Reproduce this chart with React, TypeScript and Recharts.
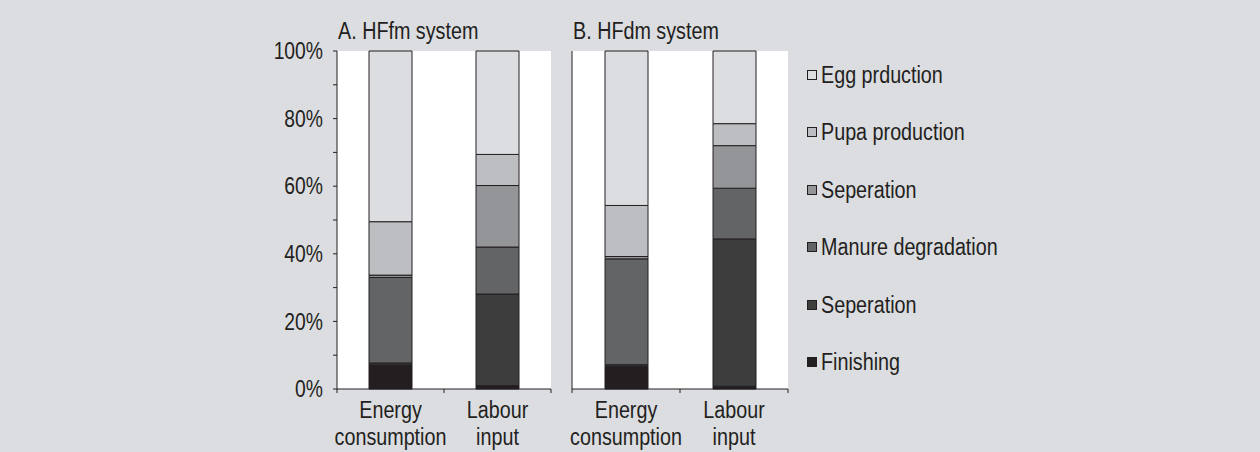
import { BarChart, Bar, XAxis, YAxis, CartesianGrid } from 'recharts';

const categories = ['Energy consumption', 'Labour input'];
const categoryLines = [['Energy', 'consumption'], ['Labour', 'input']];

// stack order, bottom to top
const seriesKeys = ['finishing', 'sepDark', 'manure', 'sepMid', 'pupa', 'egg'];
const seriesNames = ['Finishing', 'Seperation', 'Manure degradation', 'Seperation', 'Pupa production', 'Egg prduction'];
const seriesColors = ['#231f20', '#3d3d3e', '#636466', '#949598', '#bdbec1', '#dcdde0'];

// A. HFfm system (% of total)
const hffmFinishing = [7.1, 1.0];
const hffmSepDark = [0.6, 27.1];
const hffmManure = [25.3, 13.9];
const hffmSepMid = [0.7, 18.2];
const hffmPupa = [15.8, 9.2];
const hffmEgg = [50.5, 30.6];

// B. HFdm system (% of total)
const hfdmFinishing = [6.7, 0.8];
const hfdmSepDark = [0.5, 43.6];
const hfdmManure = [31.3, 15.0];
const hfdmSepMid = [0.7, 12.6];
const hfdmPupa = [15.1, 6.5];
const hfdmEgg = [45.7, 21.5];

const yTicks = [0, 10, 20, 30, 40, 50, 60, 70, 80, 90, 100];

const ink = '#231f20';
const font = "'Liberation Sans', Arial, sans-serif";
const fontSize = 23.5;
// the original type is a condensed Helvetica; squeeze Liberation Sans to match
const squeeze = 0.84;

const buildRows = (cols: number[][]) =>
  categories.map((name, i) => {
    const row: any = { name };
    seriesKeys.forEach((k, s) => (row[k] = cols[s][i]));
    return row;
  });

const hffmData = buildRows([hffmFinishing, hffmSepDark, hffmManure, hffmSepMid, hffmPupa, hffmEgg]);
const hfdmData = buildRows([hfdmFinishing, hfdmSepDark, hfdmManure, hfdmSepMid, hfdmPupa, hfdmEgg]);

const CategoryTick = (props: any) => {
  const { x, y, payload, index } = props;
  const half = payload?.offset ?? 0;
  const lines = categoryLines[categories.indexOf(payload.value)] ?? [String(payload.value)];
  return (
    <g>
      <line x1={x - half} x2={x - half} y1={y} y2={y + 4} stroke={ink} />
      {index === categories.length - 1 && <line x1={x + half} x2={x + half} y1={y} y2={y + 4} stroke={ink} />}
      <g transform={`translate(${x},${y}) scale(${squeeze},1)`}>
        <text x={0} y={29} textAnchor="middle" fill={ink} fontSize={fontSize} fontFamily={font}>
          {lines.map((l, i) => (
            <tspan key={i} x={0} dy={i === 0 ? 0 : 27}>{l}</tspan>
          ))}
        </text>
      </g>
    </g>
  );
};

const PercentTick = (props: any) => {
  const { x, y, payload } = props;
  if (payload.value % 20 !== 0) return <g />;
  return (
    <g transform={`translate(${x},${y}) scale(${squeeze},1)`}>
      <text x={0} y={0} dy="0.355em" textAnchor="end" fill={ink} fontSize={fontSize - 0.5} fontFamily={font}>
        {`${payload.value}%`}
      </text>
    </g>
  );
};

const squeezed = (text: string) => (
  <span style={{ display: 'inline-block', transform: `scaleX(${squeeze})`, transformOrigin: 'left center' }}>{text}</span>
);

function Panel({ data, title, left, width, axisWidth, showTicks }: any) {
  return (
    <div style={{ position: 'absolute', left, top: 0 }}>
      <BarChart width={width} height={452} data={data} margin={{ top: 51, right: 2, bottom: 0, left: 0 }}>
        <CartesianGrid horizontal={false} vertical={false} fill="#ffffff" />
        <XAxis
          dataKey="name"
          height={63}
          axisLine={{ stroke: ink }}
          tickLine={false}
          tickSize={0}
          tickMargin={0}
          tick={<CategoryTick />}
          interval={0}
        />
        <XAxis xAxisId="frame" orientation="top" dataKey="name" height={0} tick={false} tickLine={false} axisLine={{ stroke: ink }} />
        <YAxis
          type="number"
          domain={[0, 100]}
          ticks={yTicks}
          interval={0}
          width={axisWidth}
          axisLine={{ stroke: ink }}
          tick={showTicks ? <PercentTick /> : false}
          tickLine={showTicks ? { stroke: ink } : false}
          tickSize={4}
          tickMargin={10}
        />
        <YAxis yAxisId="frame" orientation="right" type="number" domain={[0, 100]} width={0} tick={false} tickLine={false} axisLine={{ stroke: ink }} />
        {seriesKeys.map((k, i) => (
          <Bar
            key={k}
            dataKey={k}
            name={seriesNames[i]}
            stackId="s"
            fill={seriesColors[i]}
            stroke={ink}
            strokeWidth={1}
            barSize={43}
            isAnimationActive={false}
          />
        ))}
      </BarChart>
      <div
        style={{
          position: 'absolute',
          left: axisWidth + 1,
          top: 19,
          fontFamily: font,
          fontSize,
          lineHeight: '24px',
          color: ink,
          whiteSpace: 'nowrap',
        }}
      >
        {squeezed(title)}
      </div>
    </div>
  );
}

export default function App() {
  const legendOrder = [...seriesKeys.keys()].reverse();
  return (
    <div style={{ position: 'absolute', left: 0, top: 0, width: 1260, height: 452, background: '#dcdde0', overflow: 'hidden' }}>
      <Panel data={hffmData} title="A. HFfm system" left={250} width={303} axisWidth={87} showTicks />
      <Panel data={hfdmData} title="B. HFdm system" left={560} width={230} axisWidth={12} showTicks={false} />
      <div style={{ position: 'absolute', left: 807, top: 0, fontFamily: font, fontSize, color: ink }}>
        {legendOrder.map((s, i) => (
          <div
            key={i}
            style={{
              position: 'absolute',
              left: 0,
              top: 74.5 + i * 57.5 - 12,
              height: 24,
              lineHeight: '24px',
              display: 'flex',
              alignItems: 'center',
              whiteSpace: 'nowrap',
            }}
          >
            <span style={{ width: 8, height: 8, border: `1px solid ${ink}`, background: seriesColors[s], marginRight: 4 }} />
            {squeezed(seriesNames[s])}
          </div>
        ))}
      </div>
    </div>
  );
}
